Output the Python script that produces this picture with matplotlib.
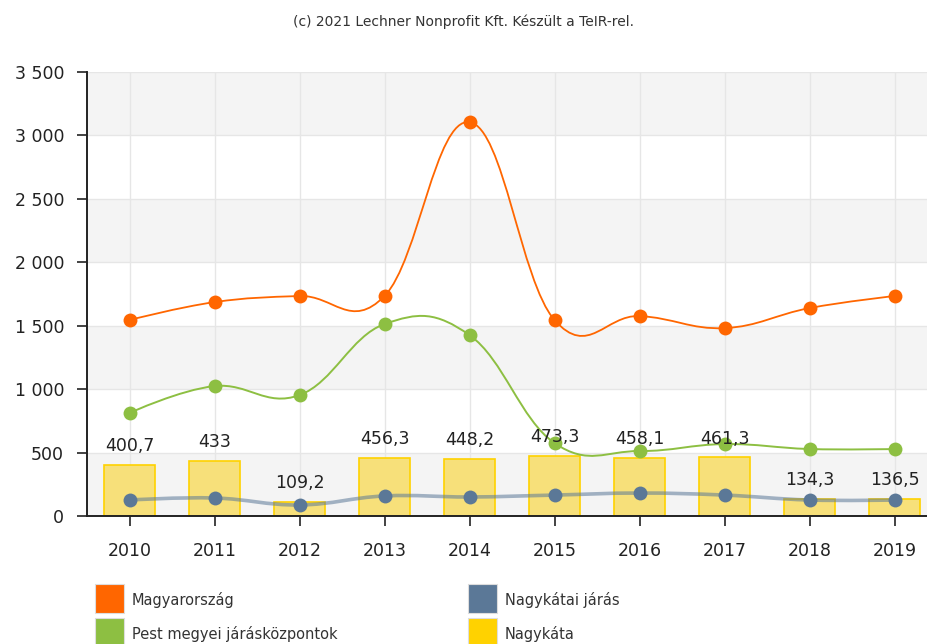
import matplotlib
matplotlib.use("Agg")
import matplotlib.pyplot as plt
from matplotlib.path import Path
from matplotlib.patches import PathPatch, Rectangle
from matplotlib.ticker import FuncFormatter


years = ["2010", "2011", "2012", "2013", "2014", "2015", "2016", "2017", "2018", "2019"]
magyarorszag = [1545, 1686, 1734, 1734, 3105, 1545, 1576, 1481, 1639, 1734]
pest_kozpontok = [812, 1024, 953, 1513, 1426, 575, 512, 567, 528, 528]
nagykatai_jaras = [126, 142, 87, 158, 150, 165, 181, 165, 126, 126]
nagykata = [400.7, 433, 109.2, 456.3, 448.2, 473.3, 458.1, 461.3, 134.3, 136.5]

ORANGE = "#ff6600"
GREEN = "#8dbf42"
BLUE = "#5b7897"
YELLOW = "#ffd200"
TEXT = "#333333"

W, H = 928, 644


def spline_path(xs, ys, smoothing=1.5):
    # smooth curve through the points (tangent parallel to neighbours' chord)
    n = len(xs)
    left = [None] * n
    right = [None] * n
    den = smoothing + 1
    for i in range(1, n - 1):
        px, py = xs[i], ys[i]
        lx, ly = xs[i - 1], ys[i - 1]
        nx, ny = xs[i + 1], ys[i + 1]
        lcx = (smoothing * px + lx) / den
        lcy = (smoothing * py + ly) / den
        rcx = (smoothing * px + nx) / den
        rcy = (smoothing * py + ny) / den
        corr = ((rcy - lcy) * (rcx - px)) / (rcx - lcx) + py - rcy
        left[i] = (lcx, lcy + corr)
        right[i] = (rcx, rcy + corr)
    verts = [(xs[0], ys[0])]
    codes = [Path.MOVETO]
    for i in range(1, n):
        c1 = right[i - 1] or (xs[i - 1], ys[i - 1])
        c2 = left[i] or (xs[i], ys[i])
        verts += [c1, c2, (xs[i], ys[i])]
        codes += [Path.CURVE4] * 3
    return Path(verts, codes)


fig = plt.figure(figsize=(W / 100, H / 100), dpi=100)
ax = fig.add_axes([87 / W, 1 - 516 / H, 850 / W, 444 / H])

x = list(range(len(years)))
ax.set_xlim(-0.5, len(years) - 0.5)
ax.set_ylim(0, 3500)

# alternating bands + grid
for lo in range(0, 3500, 1000):
    ax.axhspan(lo, lo + 500, color="#f4f4f4", zorder=0, lw=0)
for yv in range(500, 3501, 500):
    ax.axhline(yv, color="#e6e6e6", lw=1, zorder=0.5)
for xi in x:
    ax.axvline(xi, color="#e6e6e6", lw=1, zorder=0.5)

ax.bar(x, nagykata, width=0.61, color="#f7e07a", edgecolor=YELLOW, lw=1.2, zorder=1)
for xi, v in zip(x, nagykata):
    label = f"{v:g}".replace(".", ",")
    ax.annotate(label, (xi, v), xytext=(0, 7), textcoords="offset points",
                ha="center", va="bottom", fontsize=12.5, color="#222222", zorder=5)

series = [
    (nagykatai_jaras, BLUE, 2.6, 0.55),
    (pest_kozpontok, GREEN, 1.4, 1.0),
    (magyarorszag, ORANGE, 1.3, 1.0),
]
for vals, col, lw, alpha in series:
    patch = PathPatch(spline_path(x, vals), facecolor="none", edgecolor=col, lw=lw,
                      alpha=alpha, zorder=3)
    ax.add_patch(patch)
    ax.plot(x, vals, "o", color=col, ms=10, mec="none", zorder=4)

ax.set_xticks(x)
ax.set_xticklabels(years)
ax.set_yticks(range(0, 3501, 500))
ax.yaxis.set_major_formatter(FuncFormatter(lambda v, p: f"{int(v):,}".replace(",", " ")))
ax.tick_params(axis="y", labelsize=12.5, labelcolor="#222222", length=7.5, width=1.2,
               pad=9, color="#222222")
ax.tick_params(axis="x", labelsize=12.5, labelcolor="#222222", length=7.5, width=1.2,
               pad=11, color="#222222")
for side in ["top", "right"]:
    ax.spines[side].set_visible(False)
for side in ["left", "bottom"]:
    ax.spines[side].set_color("#222222")
    ax.spines[side].set_linewidth(1.4)

fig.text(0.5, 1 - 22 / H, "(c) 2021 Lechner Nonprofit Kft. Készült a TeIR-rel.",
         ha="center", va="center", fontsize=10, color=TEXT)

# legend, two columns of coloured squares
legend_items = [
    ("Magyarország", ORANGE, 95, 584),
    ("Pest megyei járásközpontok", GREEN, 95, 618),
    ("Nagykátai járás", BLUE, 468, 584),
    ("Nagykáta", YELLOW, 468, 618),
]
for name, col, px, py in legend_items:
    fig.patches.append(Rectangle((px / W, 1 - (py + 29) / H), 29 / W, 29 / H,
                                 transform=fig.transFigure, facecolor=col,
                                 edgecolor="#dddddd", lw=0.8))
    fig.text((px + 37) / W, 1 - (py + 16) / H, name, ha="left", va="center",
             fontsize=10.5, color=TEXT)

fig.savefig("out.png", dpi=100)
